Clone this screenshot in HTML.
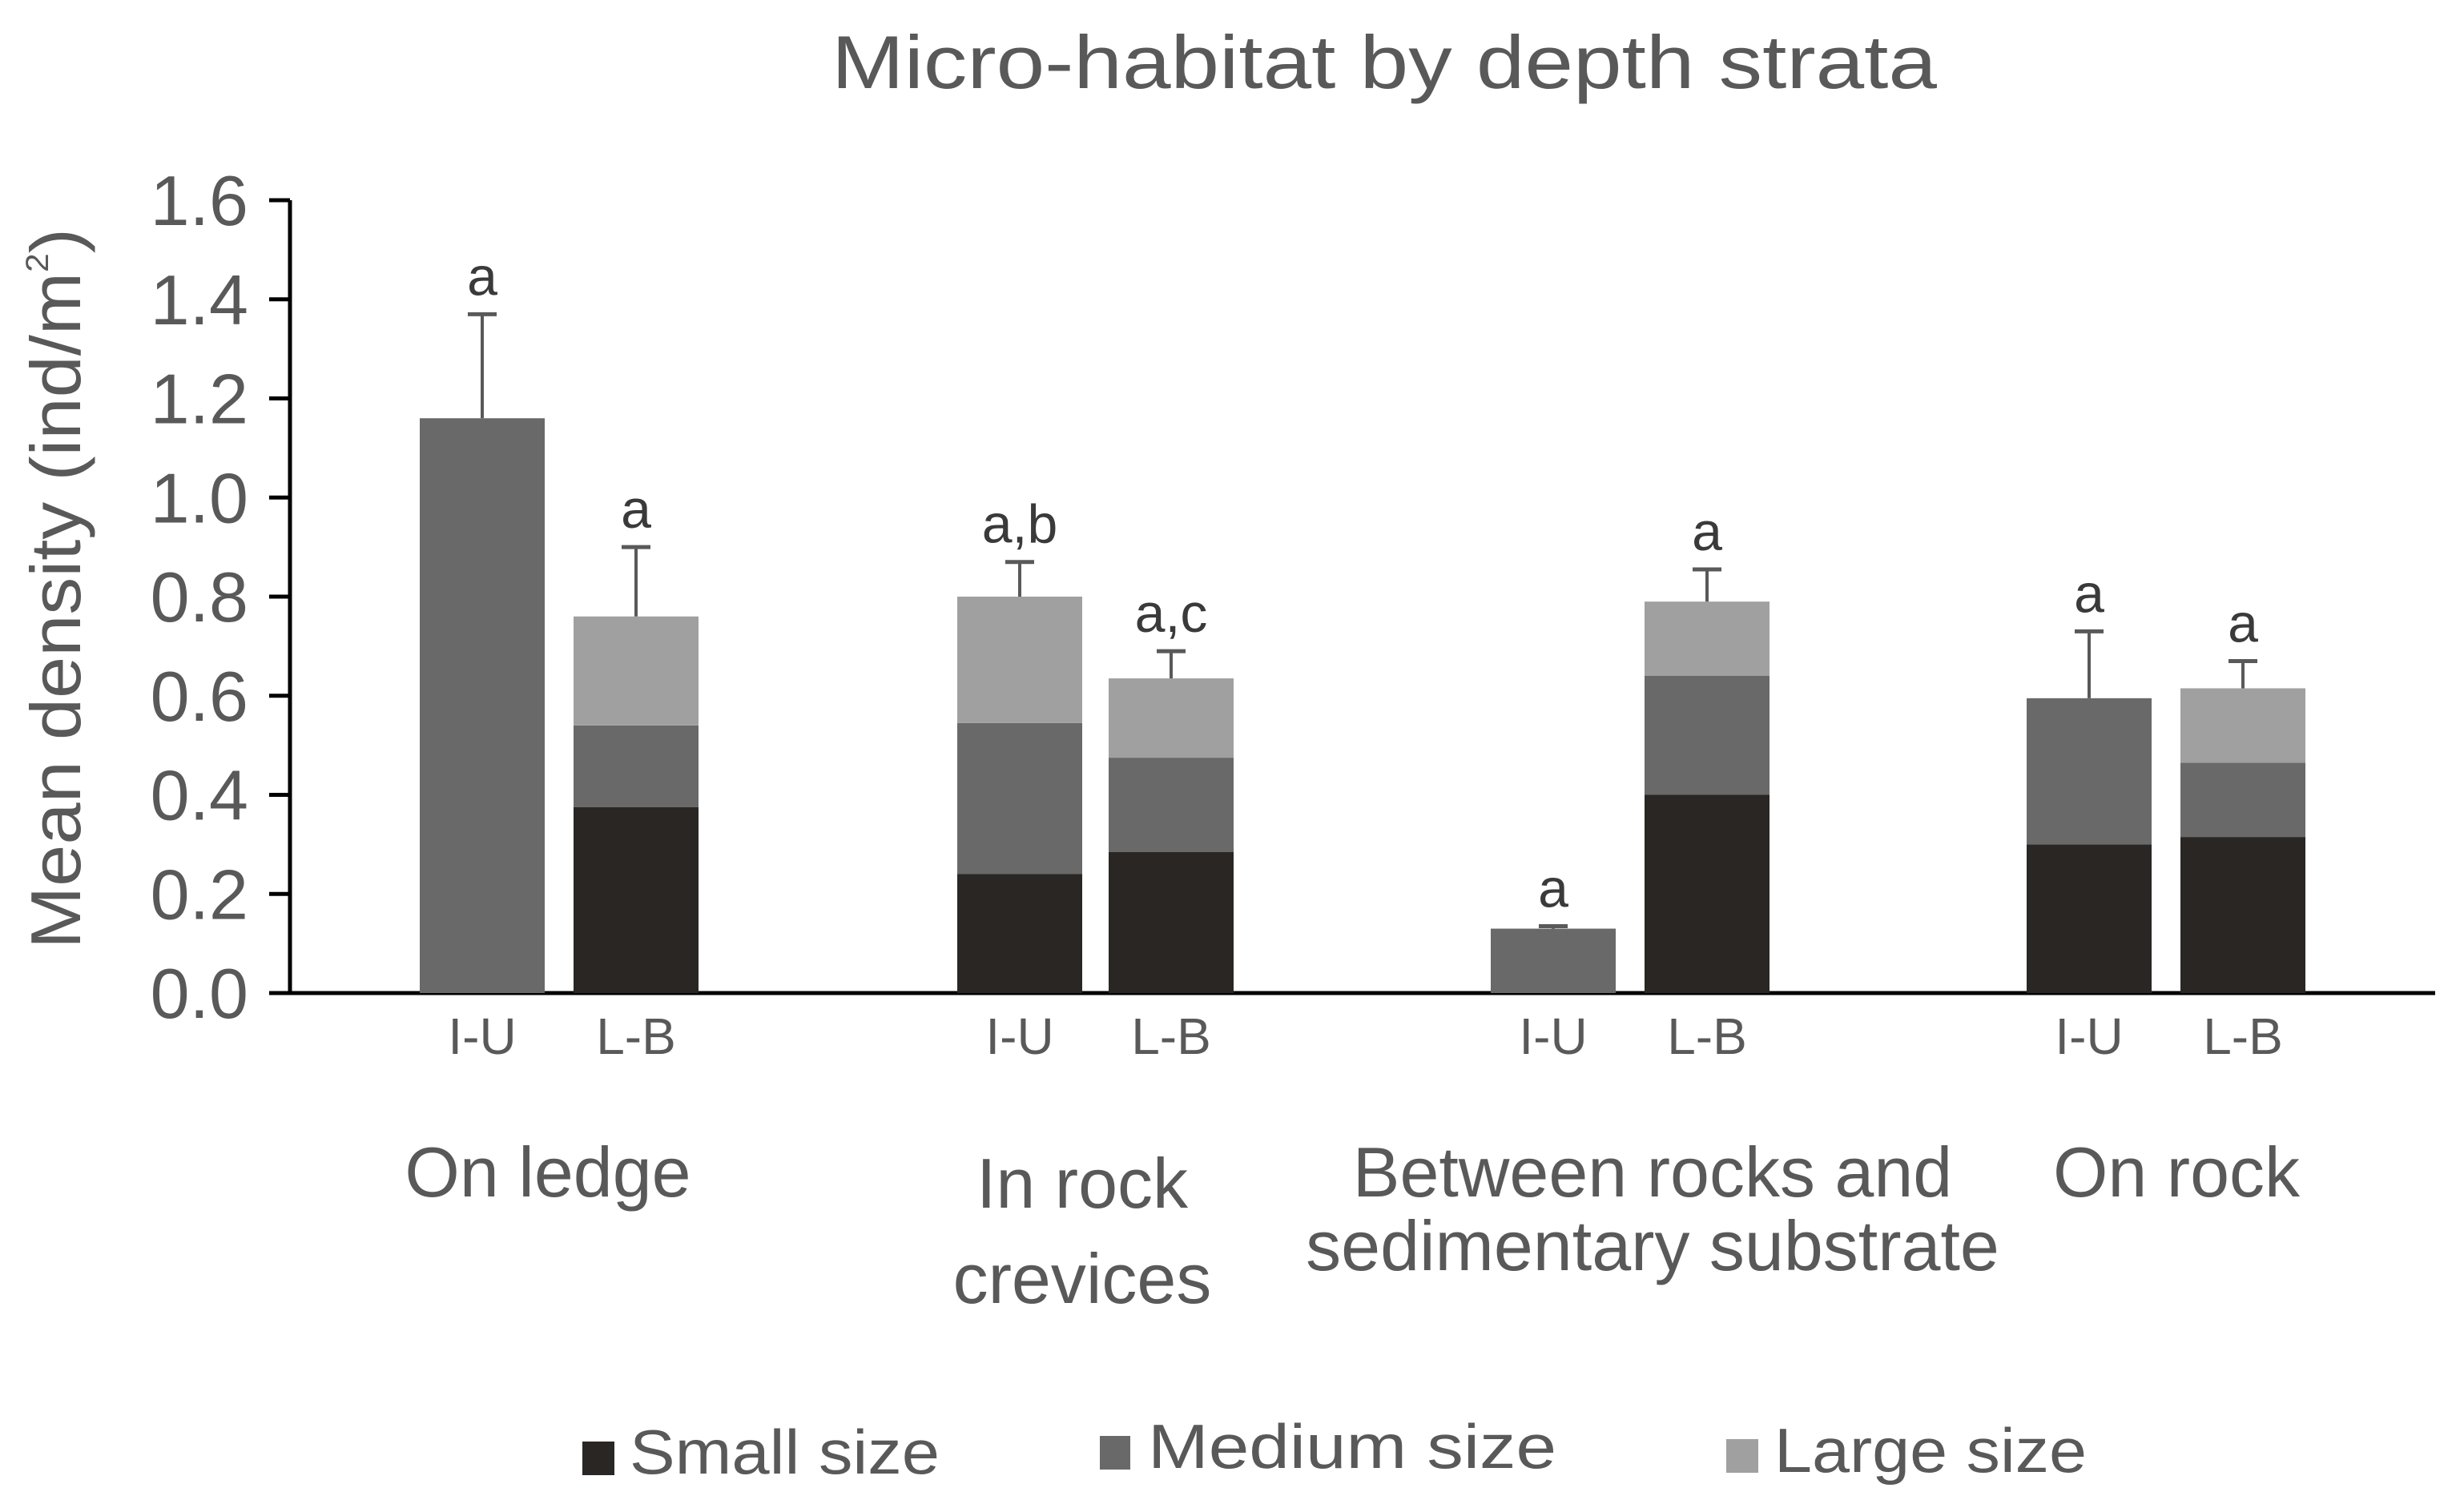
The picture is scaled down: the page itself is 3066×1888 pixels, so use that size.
<!DOCTYPE html>
<html><head><meta charset="utf-8">
<style>
html,body{margin:0;padding:0;background:#fff;}
svg{display:block;}
text{font-family:"Liberation Sans",sans-serif;}
</style></head>
<body>
<svg id="chart" width="3066" height="1888" viewBox="0 0 3066 1888" xmlns="http://www.w3.org/2000/svg">
<text x="1728" y="110" font-size="94" fill="#595959" text-anchor="middle" textLength="1380" lengthAdjust="spacingAndGlyphs">Micro-habitat by depth strata</text>
<g id="yaxis"></g>
<g id="bars"></g>
<g id="xlabels"></g>
<text transform="translate(100,735) rotate(-90)" font-size="88" fill="#595959" text-anchor="middle" textLength="900" lengthAdjust="spacingAndGlyphs">Mean density (ind/m<tspan font-size="40" dy="-40">2</tspan><tspan dy="40">)</tspan></text>
<g>
<rect x="727" y="1800" width="40" height="42" fill="#2a2623"/>
<text x="786" y="1840" font-size="78" fill="#595959" textLength="387" lengthAdjust="spacingAndGlyphs">Small size</text>
<rect x="1373" y="1793" width="38" height="42" fill="#696969"/>
<text x="1433" y="1833" font-size="78" fill="#595959" textLength="510" lengthAdjust="spacingAndGlyphs">Medium size</text>
<rect x="2155" y="1797" width="40" height="42" fill="#a0a0a0"/>
<text x="2215" y="1838" font-size="78" fill="#595959" textLength="390" lengthAdjust="spacingAndGlyphs">Large size</text>
</g>
</svg>
<script>
const groups = ["On ledge","In rock crevices","Between rocks and sedimentary substrate","On rock"];
const strata = ["I-U","L-B"];
const smallVals  = [0, 0.375, 0.24, 0.285, 0, 0.40, 0.30, 0.315];
const mediumVals = [1.16, 0.165, 0.305, 0.19, 0.13, 0.24, 0.295, 0.15];
const largeVals  = [0, 0.22, 0.255, 0.16, 0, 0.15, 0, 0.15];
const errTops    = [1.37, 0.90, 0.87, 0.69, 0.135, 0.855, 0.73, 0.67];
const sigLetters = ["a","a","a,b","a,c","a","a","a","a"];
const yTicks = [0,0.2,0.4,0.6,0.8,1.0,1.2,1.4,1.6];

const NS="http://www.w3.org/2000/svg";
const y0=1240, y1=250, vmax=1.6;
function yScale(v){return y0-(v/vmax)*(y0-y1);}
const barCenters=[602,794,1273,1462,1939,2131,2608,2800];
function xBar(i){return barCenters[i];}
const bw=156;
function mk(tag,attrs,parent){const e=document.createElementNS(NS,tag);for(const k in attrs)e.setAttribute(k,attrs[k]);parent.appendChild(e);return e;}

const ya=document.getElementById('yaxis');
const axis=mk('line',{x1:362,y1:y1,x2:362,y2:y0,stroke:'#000','stroke-width':5},ya);


const xl=mk('line',{x1:336,y1:y0,x2:3040,y2:y0,stroke:'#000','stroke-width':5},ya);


yTicks.forEach(t=>{
  const tk=mk('line',{x1:336,y1:yScale(t),x2:362,y2:yScale(t),stroke:'#000','stroke-width':5},ya);
  
  
  const lb=mk('text',{x:310,y:yScale(t)+31,'font-size':88,fill:'#595959','text-anchor':'end'},ya);
  
  
  lb.textContent=t.toFixed(1);
});

const bars=document.getElementById('bars');
const cols=['#2a2623','#696969','#a0a0a0'];
for(let i=0;i<barCenters.length;i++){
  let base=0;
  [smallVals[i],mediumVals[i],largeVals[i]].forEach((v,k)=>{
    if(v<=0)return;
    const r=mk('rect',{x:xBar(i)-bw/2,y:yScale(base+v),width:bw,height:yScale(base)-yScale(base+v),fill:cols[k]},bars);
    
    
    base+=v;
  });
  const top=yScale(base), et=yScale(errTops[i]);
  const el=mk('line',{x1:xBar(i),y1:top,x2:xBar(i),y2:et,stroke:'#595959','stroke-width':4},bars);
  
  
  const cap=mk('line',{x1:xBar(i)-18,y1:et,x2:xBar(i)+18,y2:et,stroke:'#595959','stroke-width':5},bars);
  
  
  const s=mk('text',{x:xBar(i),y:et-24,'font-size':68,fill:'#3a3a3a','text-anchor':'middle'},bars);
  
  
  s.textContent=sigLetters[i];
  const c=mk('text',{x:xBar(i),y:1316,'font-size':64,fill:'#595959','text-anchor':'middle'},document.getElementById('xlabels'));
  
  
  c.textContent=strata[i%2];
}
const xg=document.getElementById('xlabels');
const glines=[[["On ledge",684,1494]],[["In rock",1351,1508],["crevices",1351,1627]],[["Between rocks and",2063,1494],["sedimentary substrate",2063,1586]],[["On rock",2717,1494]]];
glines.forEach((g,gi)=>{
  g.forEach(l=>{
    const t=mk('text',{x:l[1],y:l[2],'font-size':88,fill:'#595959','text-anchor':'middle'},xg);
    
    
    t.textContent=l[0];
  });
});
</script>
</body></html>
